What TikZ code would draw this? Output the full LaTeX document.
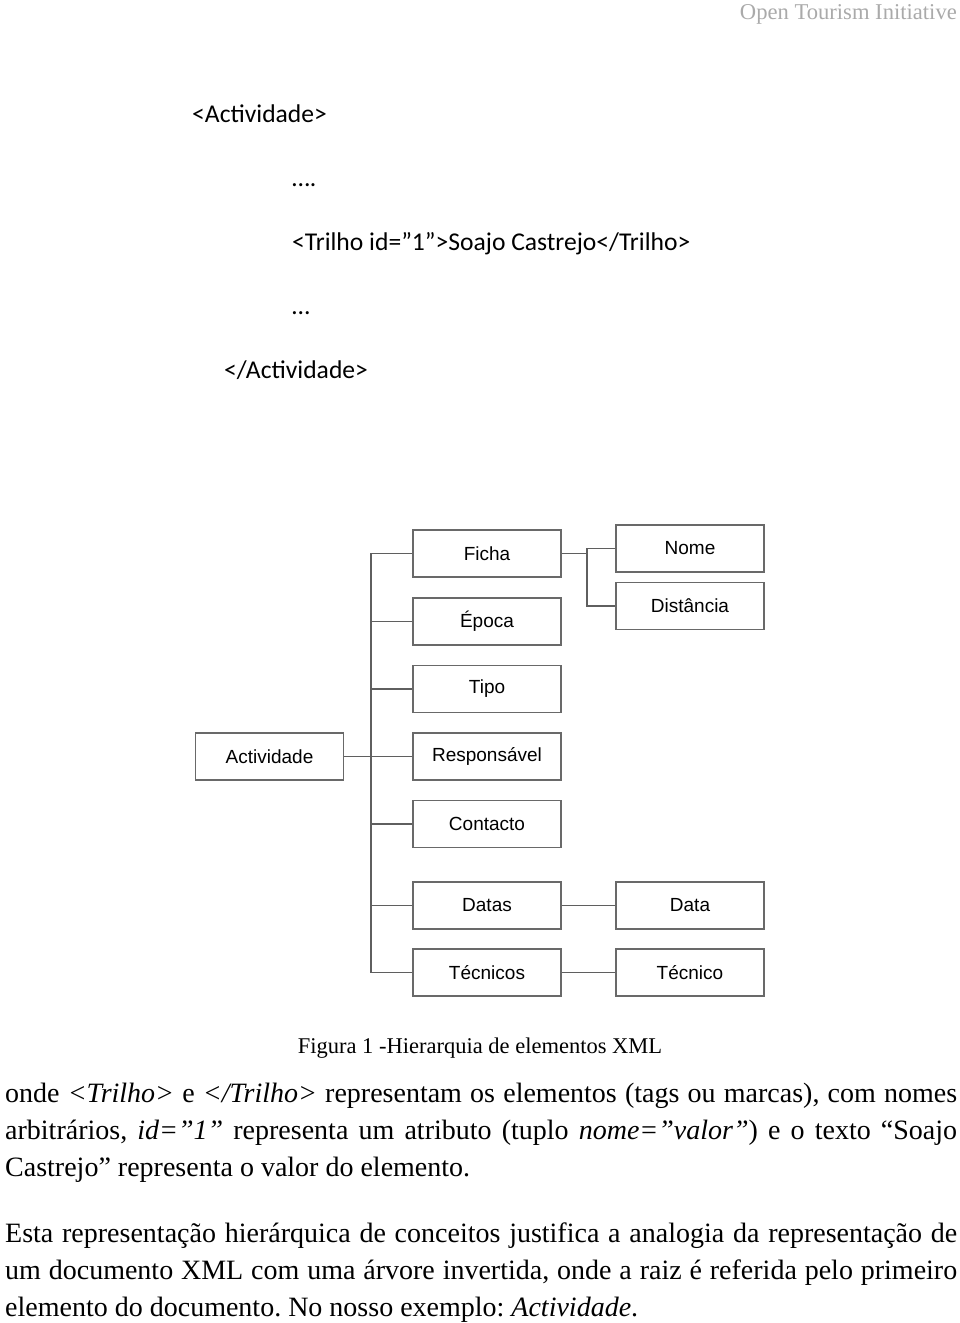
\documentclass[tikz,border=0pt]{standalone}
\usepackage{fontspec}
\setmainfont{Liberation Serif}
\newfontfamily\calfont{Carlito}
\newfontfamily\arialfont{Liberation Sans}
\definecolor{boxgray}{RGB}{105,105,105}
\definecolor{linegray}{RGB}{95,95,95}
\definecolor{headgray}{RGB}{170,170,170}
\begin{document}
\frenchspacing
\begin{tikzpicture}[x=1pt,y=-1pt,
  box/.style={draw=boxgray, line width=1.3pt, minimum width=148pt, minimum height=47pt, inner sep=0pt, font=\arialfont\fontsize{19}{22}\selectfont},
  conn/.style={draw=linegray, line width=1.2pt},
  code/.style={anchor=base west, inner sep=0pt, font=\calfont\fontsize{25.6}{30}\selectfont},
  para/.style={anchor=base west, inner sep=0pt, font=\fontsize{28}{37}\selectfont}]
\useasboundingbox (0,0) rectangle (960,1323);
% header
\node[anchor=base east, inner sep=0pt, text=headgray, font=\fontsize{22.6}{26}\selectfont] (hd) at (957,19) {Open Tourism Initiative};
% XML code
\node[code] (c1) at (192,122) {<Actividade>};
\node[code] (c2) at (292,186) {….};
\node[code] (c3) at (292,250) {<Trilho id=”1”>Soajo Castrejo</Trilho>};
\node[code] (c4) at (292,314) {…};
\node[code] (c5) at (224,378) {</Actividade>};
% tree
\node[box] (act) at (269.5,756.5) {Actividade};
\node[box] (fic) at (487,553.5) {Ficha};
\node[box] (epo) at (487,621.5) {Época};
\node[box] (tip) at (487,689) {Tipo};
\node[box] (res) at (487,756.5) {Responsável};
\node[box] (con) at (487,824) {Contacto};
\node[box] (dts) at (487,905.5) {Datas};
\node[box] (tcs) at (487,972.5) {Técnicos};
\node[box] (nom) at (690,548.5) {Nome};
\node[box] (dis) at (690,606) {Distância};
\node[box] (dta) at (690,905.5) {Data};
\node[box] (tco) at (690,972.5) {Técnico};
\coordinate (tk) at (371,0);
\coordinate (sk) at (587,0);
\draw[conn] (tcs.west) -- (tcs.west -| tk) |- (fic.west);
\draw[conn] (epo.west) -- (epo.west -| tk);
\draw[conn] (tip.west) -- (tip.west -| tk);
\draw[conn] (res.west) -- (res.west -| tk);
\draw[conn] (con.west) -- (con.west -| tk);
\draw[conn] (dts.west) -- (dts.west -| tk);
\draw[conn] (act.east) -- (act.east -| tk);
\draw[conn] (fic.east) -- (fic.east -| sk);
\draw[conn] (nom.west) -- (nom.west -| sk) |- (dis.west);
\draw[conn] (dts.east) -- (dta.west);
\draw[conn] (tcs.east) -- (tco.west);
% caption
\node[anchor=base, inner sep=0pt, font=\fontsize{22.5}{26}\selectfont] (cap) at (480,1053) {Figura 1 -Hierarquia de elementos XML};
% paragraphs
\node[para] (p1) at (5,1102) {\hbox to 952pt{onde \textit{<Trilho>} e \textit{</Trilho>} representam os elementos (tags ou marcas), com nomes}};
\node[para] (p2) at (5,1139) {\hbox to 952pt{arbitrários, \textit{id=”1”} representa um atributo (tuplo \textit{nome=”valor”}) e o texto “Soajo}};
\node[para] (p3) at (5,1176) {Castrejo” representa o valor do elemento.};
\node[para] (p4) at (5,1242) {\hbox to 952pt{Esta representação hierárquica de conceitos justifica a analogia da representação de}};
\node[para] (p5) at (5,1279) {\hbox to 952pt{um documento XML com uma árvore invertida, onde a raiz é referida pelo primeiro}};
\node[para] (p6) at (5,1316) {elemento do documento. No nosso exemplo: \textit{Actividade}.};
\end{tikzpicture}
\end{document}
